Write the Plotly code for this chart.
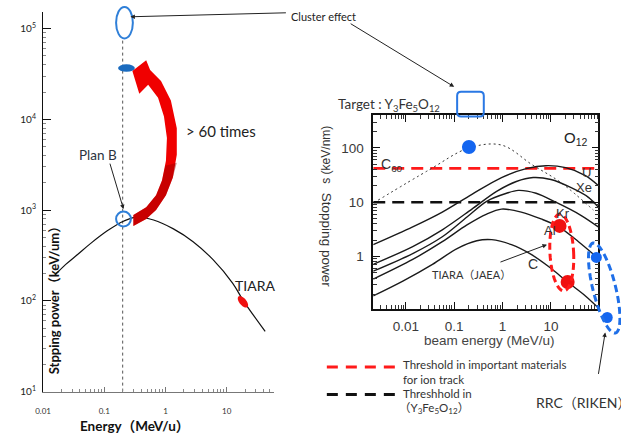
import numpy as np
import plotly.graph_objects as go

W, H = 621, 441
CAL = "Lato, 'Noto Sans CJK JP', sans-serif"
ARIAL = "'Liberation Sans', Arial, sans-serif"

# ---- left panel: cluster-beam stopping power vs energy ----
left_energy = [0.0156, 0.0235, 0.0367, 0.0594, 0.112, 0.210, 0.340, 0.640,
               1.35, 2.83, 5.94, 12.5, 18.8, 42.6]
left_power = [192, 252, 324, 427, 591, 759, 839, 778, 621, 449, 286, 157, 100, 46]
planb_energy = [0.2, 0.2]
planb_guide = [10, 7.6e4]

left_xticks = [0.01, 0.1, 1, 10]
left_xtext = ["0.01", "0.1", "1", "10"]
left_yticks = [10, 100, 1000, 1e4, 1e5]
left_ytext = ["10<sup>1</sup>", "10<sup>2</sup>", "10<sup>3</sup>",
              "10<sup>4</sup>", "10<sup>5</sup>"]

# ---- right panel: stopping power in Y3Fe5O12 for several ions ----
u_energy = [0.00212, 0.0139, 0.0569, 0.233, 0.955, 3.09, 7.91, 20.2, 51.8, 95.4]
u_power = [1.65, 3.51, 6.58, 14.0, 28.5, 41.5, 47.1, 43.3, 31.0, 20.4]
xe_energy = [0.00212, 0.0139, 0.0569, 0.233, 0.755, 1.93, 4.30, 10.0, 25.6, 59.7, 95.4]
xe_power = [0.716, 1.52, 3.10, 7.46, 15.8, 24.1, 28.5, 26.2, 18.7, 12.3, 8.11]
kr_energy = [0.00212, 0.0139, 0.0569, 0.184, 0.471, 1.21, 2.12, 4.94, 12.6, 40.9, 95.4]
kr_power = [0.534, 1.13, 2.31, 5.34, 10.4, 14.6, 16.5, 14.6, 10.0, 5.80, 3.51]
al_energy = [0.00212, 0.0139, 0.0569, 0.184, 0.471, 0.955, 2.44, 6.25, 14.6, 37.2, 95.4]
al_power = [0.382, 0.882, 1.87, 3.82, 6.05, 7.46, 6.58, 4.91, 3.51, 1.87, 0.920]
c_energy = [0.00212, 0.00869, 0.0356, 0.115, 0.294, 0.597, 1.53, 3.91, 10.0, 22.2, 51.8, 95.4]
c_power = [0.187, 0.351, 0.716, 1.40, 1.95, 2.04, 1.65, 1.09, 0.605, 0.337, 0.187, 0.113]
c60_energy = [0.00268, 0.0309, 0.202, 0.955, 4.09, 16.0, 75.5]
c60_power = [10.9, 39.8, 100, 113, 49.1, 23.1, 7.16]

track_threshold = 42      # keV/nm, important materials
yig_threshold = 10        # keV/nm, Y3Fe5O12

c60_point_energy = [0.202]
c60_point_power = [104]
tiara_energy = [15.1, 22.2]
tiara_power = [3.66, 0.337]
rrc_energy = [86.9, 146]
rrc_power = [0.96, 0.075]

right_xticks = [0.01, 0.1, 1, 10]
right_xtext = ["0.01", "0.1", "1", "10"]
right_yticks = [1, 10, 100]
right_ytext = ["1", "10", "100"]

# axis geometry (log10 ranges)
left_xrange = [-2.0, 1.766]
left_yrange = [1.0, 5.185]
right_xrange = [-2.673, 1.98]
right_yrange = [-0.964, 2.6]
# same scale as the right panel, extended so beam points past the frame still show
right_ext_xrange = [-2.673, 2.449]
right_ext_yrange = [-1.818, 2.6]


def P(x, y):
    """pixel position -> paper coordinates"""
    return x / W, 1 - y / H


def minor_log(lo, hi):
    return [m * 10.0 ** k for k in range(int(np.floor(lo)), int(np.ceil(hi)) + 1)
            for m in range(2, 10) if lo <= np.log10(m * 10.0 ** k) <= hi]


def path_from(points, close=True):
    pts = [P(x, y) for x, y in points]
    s = "M " + " L ".join(f"{a:.5f},{b:.5f}" for a, b in pts)
    return s + (" Z" if close else "")


def ellipse_path(cx, cy, rx, ry, tilt=0.0, n=60):
    t = np.linspace(0, 2 * np.pi, n, endpoint=False)
    a = np.radians(tilt)
    xs = cx + rx * np.cos(t) * np.cos(a) - ry * np.sin(t) * np.sin(a)
    ys = cy + rx * np.cos(t) * np.sin(a) + ry * np.sin(t) * np.cos(a)
    return path_from(list(zip(xs, ys)))


fig = go.Figure()

# left panel traces
fig.add_trace(go.Scatter(x=planb_energy, y=planb_guide, mode="lines",
                         line=dict(color="#555", width=1, dash="3px,3px"),
                         xaxis="x", yaxis="y", hoverinfo="skip"))
fig.add_trace(go.Scatter(x=left_energy, y=left_power, mode="lines",
                         line=dict(color="#111", width=1.2, shape="spline", smoothing=1.0),
                         xaxis="x", yaxis="y"))

# right panel traces
xr_lo, xr_hi = 10 ** right_xrange[0], 10 ** right_xrange[1]
fig.add_trace(go.Scatter(x=[xr_lo, xr_hi], y=[track_threshold] * 2, mode="lines",
                         line=dict(color="#ff1a1a", width=2.6, dash="12px,7px"),
                         xaxis="x2", yaxis="y2"))
fig.add_trace(go.Scatter(x=[xr_lo, xr_hi], y=[yig_threshold] * 2, mode="lines",
                         line=dict(color="#111", width=2.6, dash="12px,7px"),
                         xaxis="x2", yaxis="y2"))
fig.add_trace(go.Scatter(x=c60_energy, y=c60_power, mode="lines",
                         line=dict(color="#333", width=1, dash="2px,3px", shape="spline"),
                         xaxis="x2", yaxis="y2"))
for ex, sy in [(u_energy, u_power), (xe_energy, xe_power), (kr_energy, kr_power),
               (al_energy, al_power), (c_energy, c_power)]:
    fig.add_trace(go.Scatter(x=ex, y=sy, mode="lines",
                             line=dict(color="#1a1a1a", width=1.4, shape="spline", smoothing=0.9),
                             xaxis="x2", yaxis="y2"))
fig.add_trace(go.Scatter(x=c60_point_energy, y=c60_point_power, mode="markers",
                         marker=dict(color="#1466f0", size=14), xaxis="x2", yaxis="y2",
                         cliponaxis=False))
fig.add_trace(go.Scatter(x=tiara_energy, y=tiara_power, mode="markers",
                         marker=dict(color="#f01010", size=14), xaxis="x2", yaxis="y2",
                         cliponaxis=False))
fig.add_trace(go.Scatter(x=rrc_energy, y=rrc_power, mode="markers",
                         marker=dict(color="#1466f0", size=11), xaxis="x3", yaxis="y3",
                         cliponaxis=False))

shapes = []
BLUE = "#2f7fd8"

# highlight ellipses in the left panel
x0, y0 = P(118 - 8.5, 23 - 16)
x1, y1 = P(118 + 8.5, 23 + 16)
shapes.append(dict(type="circle", xref="paper", yref="paper", x0=x0, x1=x1, y0=y0, y1=y1,
                   line=dict(color=BLUE, width=2)))
x0, y0 = P(120 - 8.5, 69 - 3.8)
x1, y1 = P(120 + 8.5, 69 + 3.8)
shapes.append(dict(type="circle", xref="paper", yref="paper", x0=x0, x1=x1, y0=y0, y1=y1,
                   fillcolor="#1a6bbf", line=dict(width=0)))
x0, y0 = P(117 - 7.5, 222 - 7.5)
x1, y1 = P(117 + 7.5, 222 + 7.5)
shapes.append(dict(type="circle", xref="paper", yref="paper", x0=x0, x1=x1, y0=y0, y1=y1,
                   line=dict(color=BLUE, width=2)))
shapes.append(dict(type="path", xref="paper", yref="paper",
                   path=ellipse_path(238, 306, 3.5, 7, tilt=-40),
                   fillcolor="#f01010", line=dict(width=0)))

# curved "> 60 times" arrow: bright head fading to a darker base
arrow_outline = [(126, 72), (140, 61), (144, 71), (155, 82), (165, 102), (171, 130),
                 (171, 157), (167, 180), (160, 198), (150, 213), (140, 222), (127, 229),
                 (127, 218), (140, 210), (150, 198), (156, 183), (160, 163), (161, 140),
                 (158, 118), (152, 99), (142, 86), (133, 95)]
shapes.append(dict(type="path", xref="paper", yref="paper", path=path_from(arrow_outline),
                   fillcolor="#f00000", line=dict(width=0)))
arrow_base = [(171, 165), (167, 180), (160, 198), (150, 213), (140, 222), (127, 229),
              (127, 218), (140, 210), (150, 198), (156, 183), (159.5, 168)]
shapes.append(dict(type="path", xref="paper", yref="paper", path=path_from(arrow_base),
                   fillcolor="rgba(150,0,0,0.45)", line=dict(width=0)))

# rounded marker box above the right panel
bx0, by0, bx1, by1, r = 455, 93, 482, 118, 4
a = P(bx0 + r, by0); b = P(bx1 - r, by0); c = P(bx1, by0); d = P(bx1, by0 + r)
e = P(bx1, by1 - r); f = P(bx1, by1); g = P(bx1 - r, by1); h = P(bx0 + r, by1)
i = P(bx0, by1); j = P(bx0, by1 - r); k = P(bx0, by0 + r); m = P(bx0, by0)
box = (f"M {a[0]},{a[1]} L {b[0]},{b[1]} Q {c[0]},{c[1]} {d[0]},{d[1]} "
       f"L {e[0]},{e[1]} Q {f[0]},{f[1]} {g[0]},{g[1]} L {h[0]},{h[1]} "
       f"Q {i[0]},{i[1]} {j[0]},{j[1]} L {k[0]},{k[1]} Q {m[0]},{m[1]} {a[0]},{a[1]} Z")
shapes.append(dict(type="path", xref="paper", yref="paper", path=box,
                   line=dict(color="#2a78e4", width=2)))

# dashed ellipses in the right panel
shapes.append(dict(type="path", xref="paper", yref="paper",
                   path=ellipse_path(561, 256, 12, 39, tilt=-3),
                   line=dict(color="#ff1a1a", width=3, dash="7px,4px")))
shapes.append(dict(type="path", xref="paper", yref="paper",
                   path=ellipse_path(604, 292, 11.5, 47, tilt=-14),
                   line=dict(color="#1f6fe8", width=3, dash="7px,4px")))

# legend samples
for yy, col in [(372, "#ff1a1a"), (400, "#111")]:
    a0 = P(323, yy); a1 = P(400, yy)
    shapes.append(dict(type="line", xref="paper", yref="paper", x0=a0[0], y0=a0[1],
                       x1=a1[0], y1=a1[1], line=dict(color=col, width=3, dash="11px,8px")))


def note(text, x, y, size, color="#222", xanchor="left", family=CAL, angle=0):
    if xanchor == "left":
        x -= 5
    px_, py_ = P(x, y)
    return dict(text=text, x=px_, y=py_, xref="paper", yref="paper", xanchor=xanchor,
                yanchor="middle", showarrow=False, textangle=angle,
                font=dict(size=size, color=color, family=family))


def pointer(hx, hy, tx, ty):
    px_, py_ = P(hx, hy)
    return dict(text="", x=px_, y=py_, xref="paper", yref="paper", showarrow=True,
                ax=tx - hx, ay=ty - hy, axref="pixel", ayref="pixel",
                arrowhead=2, arrowsize=0.9, arrowwidth=1, arrowcolor="#222", standoff=0)


annotations = [
    note("Cluster effect", 290, 17, 11),
    note("Target : Y<sub>3</sub>Fe<sub>5</sub>O<sub>12</sub>", 337, 106, 13.5, "#333"),
    note("Plan B", 75, 157, 13.5, "#2b3440"),
    note("&gt; 60 times", 183, 133, 15, "#222"),
    note("TIARA", 233, 289, 14, "#222"),
    note("<b>Stpping power（keV/um）</b>", 47, 301, 13, "#111", xanchor="center", angle=-90),
    note("<b>Energy（MeV/u）</b>", 128, 432, 13.5, "#111", xanchor="center"),
    note("s (keV/nm)", 322, 157, 12, "#333", xanchor="center", family=ARIAL, angle=-90),
    note("Stopping power", 322, 243, 13.5, "#333", xanchor="center", family=ARIAL, angle=90),
    note("beam energy (MeV/u)", 488, 345, 13.5, "#444", xanchor="center", family=ARIAL),
    note("O<sub>12</sub>", 566, 140, 15, "#222", family=ARIAL),
    note("C<sub>60</sub>", 381, 167, 14, "#333", family=ARIAL),
    note("U", 584, 175, 13, "#333", family=ARIAL),
    note("Xe", 578, 190, 13, "#333", family=ARIAL),
    note("Kr", 558, 216, 13, "#333", family=ARIAL),
    note("Al", 546, 234, 13, "#333", family=ARIAL),
    note("C", 530, 268, 14, "#333", family=ARIAL),
    note("TIARA（JAEA）", 433, 278, 11, "#333"),
    note("RRC（RIKEN）", 538, 408, 14, "#333"),
    note("Threshold in important materials", 403, 370, 11.5, "#333"),
    note("for ion track", 403, 385, 11.5, "#333"),
    note("Threshhold in", 403, 399, 11.5, "#333"),
    note("（Y<sub>3</sub>Fe<sub>5</sub>O<sub>12</sub>）", 399, 414, 11.5, "#333"),
    pointer(124, 17, 281, 13),
    pointer(452, 88, 347, 24),
    pointer(117, 212, 103, 165),
    pointer(546, 248, 498, 266),
    pointer(605, 337, 598, 380),
]

lx0, _ = P(35.5, 0)
lx1, _ = P(269, 0)
_, ly0 = P(0, 397)
_, ly1 = P(0, 12)
rx0, _ = P(370, 0)
rx1, _ = P(598, 0)
_, ry0 = P(0, 313)
_, ry1 = P(0, 117)
ex1, _ = P(621, 0)
_, ey0 = P(0, 360)

fig.update_layout(
    width=W, height=H, autosize=False,
    margin=dict(l=0, r=0, t=0, b=0),
    paper_bgcolor="white", plot_bgcolor="rgba(0,0,0,0)",
    showlegend=False,
    shapes=shapes, annotations=annotations,
    xaxis=dict(type="log", domain=[lx0, lx1], range=left_xrange, anchor="y",
               showline=True, linecolor="#777", linewidth=1, ticks="inside", ticklen=5,
               tickcolor="#777", tickvals=left_xticks, ticktext=left_xtext,
               tickfont=dict(size=8, color="#333", family=CAL), ticklabelstandoff=12,
               showgrid=False, zeroline=False,
               minor=dict(ticks="inside", ticklen=3, tickcolor="#888",
                          tickvals=minor_log(*left_xrange), showgrid=False)),
    yaxis=dict(type="log", domain=[ly0, ly1], range=left_yrange, anchor="x",
               showline=True, linecolor="#111", linewidth=1.2, ticks="inside", ticklen=8,
               tickcolor="#111", tickvals=left_yticks, ticktext=left_ytext,
               tickfont=dict(size=10, color="#222", family=CAL), ticklabelstandoff=4,
               showgrid=False, zeroline=False,
               minor=dict(ticks="inside", ticklen=3, tickcolor="#888",
                          tickvals=minor_log(*left_yrange), showgrid=False)),
    xaxis2=dict(type="log", domain=[rx0, rx1], range=right_xrange, anchor="y2",
                showline=True, mirror="allticks", linecolor="#111", linewidth=1.5,
                ticks="inside", ticklen=7, tickcolor="#111",
                tickvals=right_xticks, ticktext=right_xtext,
                tickfont=dict(size=13.5, color="#3a3a3a", family=ARIAL), ticklabelstandoff=4,
                showgrid=False, zeroline=False,
                minor=dict(ticks="inside", ticklen=4, tickcolor="#333",
                           tickvals=minor_log(*right_xrange), showgrid=False)),
    yaxis2=dict(type="log", domain=[ry0, ry1], range=right_yrange, anchor="x2",
                showline=True, mirror="allticks", linecolor="#111", linewidth=1.5,
                ticks="inside", ticklen=7, tickcolor="#111",
                tickvals=right_yticks, ticktext=right_ytext,
                tickfont=dict(size=13.5, color="#3a3a3a", family=ARIAL), ticklabelstandoff=5,
                showgrid=False, zeroline=False,
                minor=dict(ticks="inside", ticklen=4, tickcolor="#333",
                           tickvals=minor_log(*right_yrange), showgrid=False)),
    xaxis3=dict(type="log", domain=[rx0, ex1], range=right_ext_xrange, anchor="y3",
                visible=False, showgrid=False, zeroline=False),
    yaxis3=dict(type="log", domain=[ey0, ry1], range=right_ext_yrange, anchor="x3",
                visible=False, showgrid=False, zeroline=False),
)

fig.write_html("out.html")
